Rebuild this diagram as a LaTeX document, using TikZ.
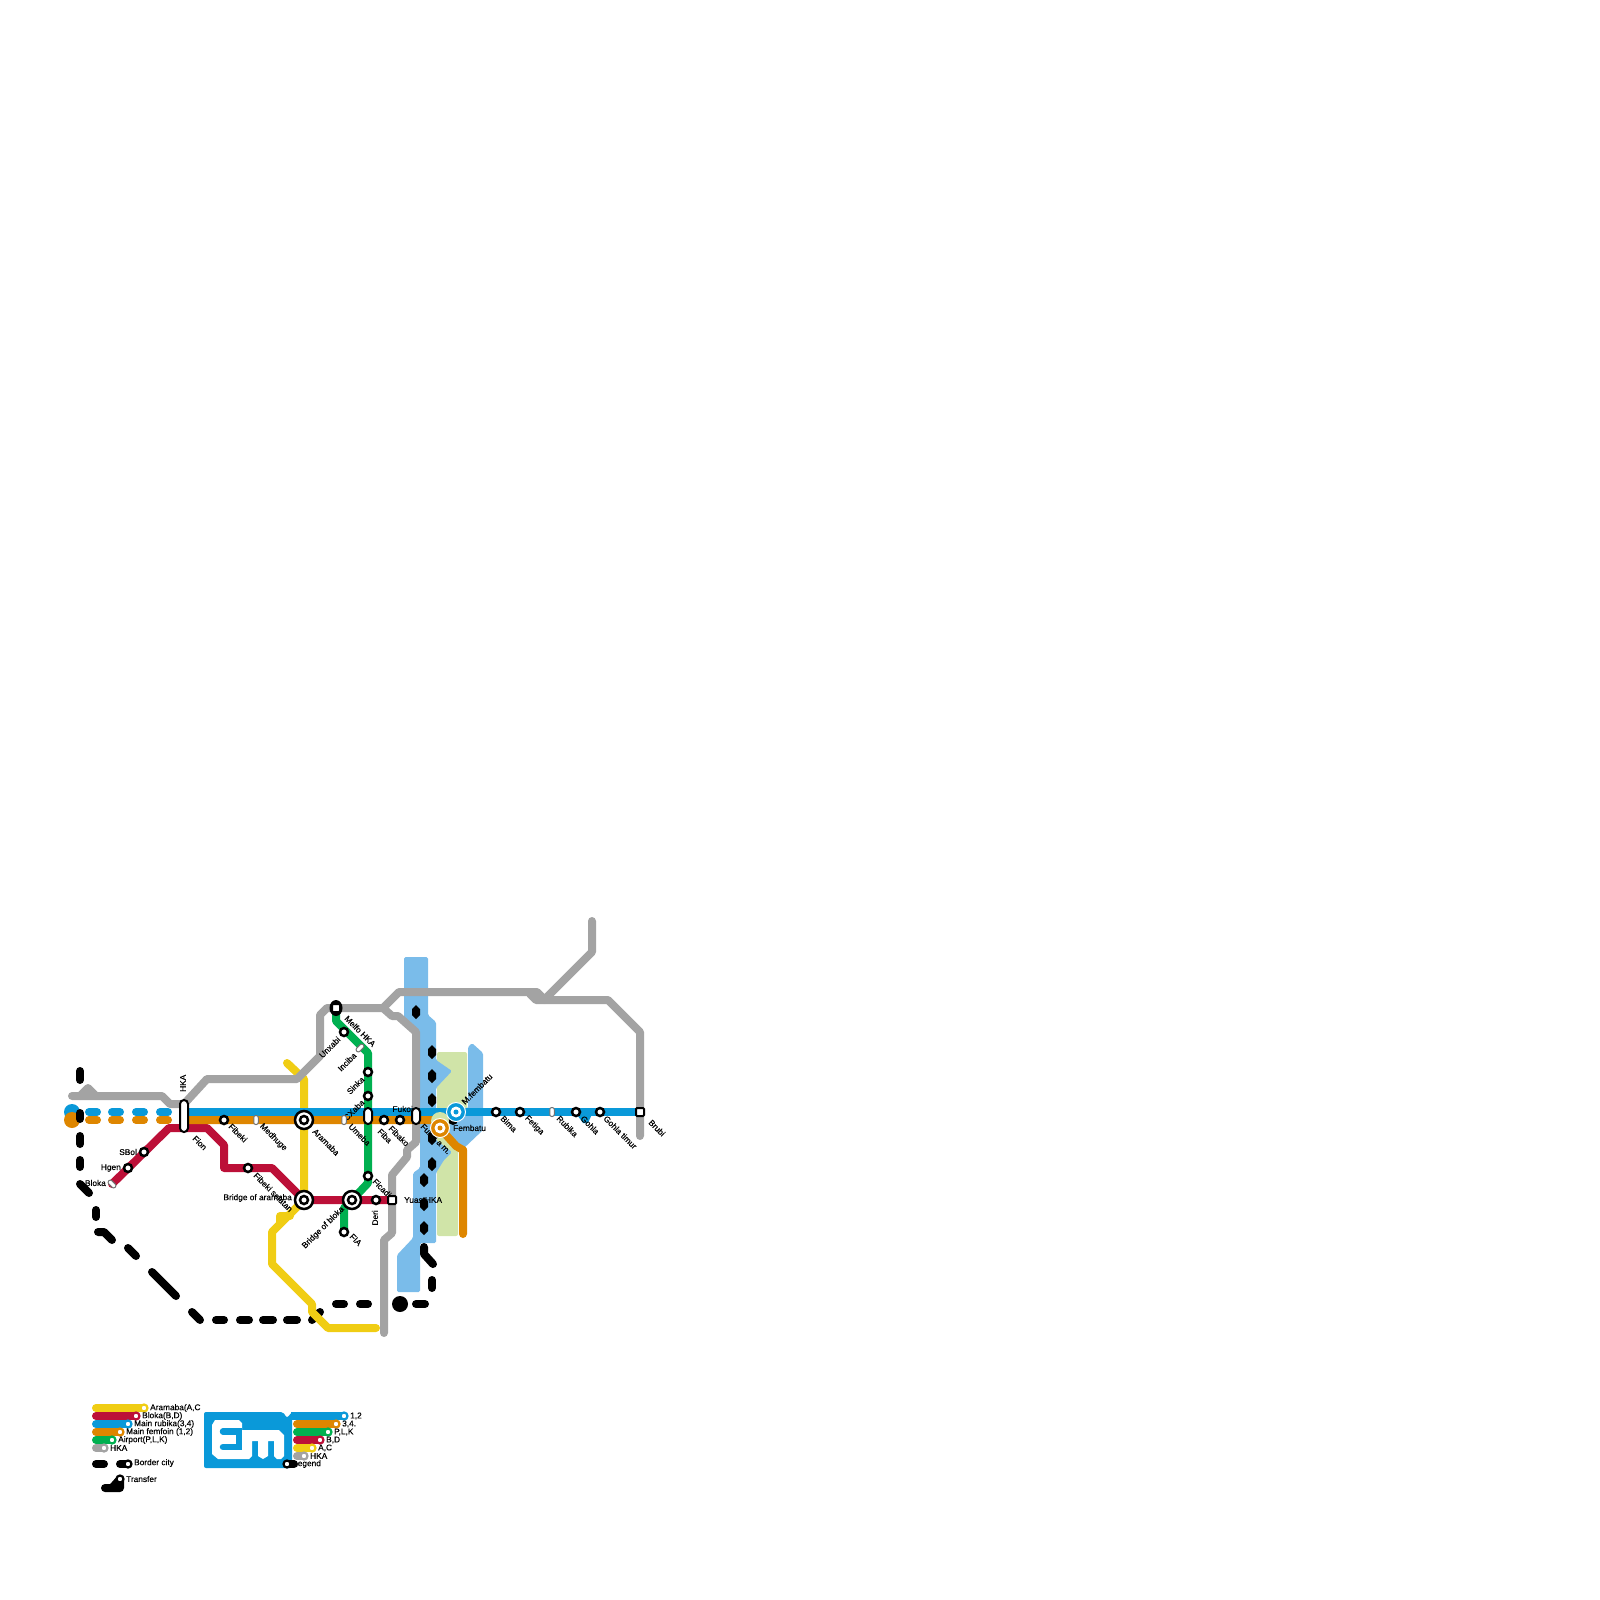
\documentclass[tikz,border=0pt]{standalone}
\usepackage{fontspec}
\setmainfont{Liberation Sans}[FakeBold=0.25]
\definecolor{lineblue}{HTML}{0A99D9}
\definecolor{lineorange}{HTML}{DE8600}
\definecolor{linered}{HTML}{BC1038}
\definecolor{linegreen}{HTML}{00B050}
\definecolor{lineyellow}{HTML}{F0CD14}
\definecolor{linegray}{HTML}{A3A3A3}
\definecolor{water}{HTML}{7ABCEA}
\definecolor{park}{HTML}{D0E4A8}
\tikzset{
    metro/.style={line width=8pt, line cap=round, line join=round},
    lbl/.style={font=\fontsize{8.3}{9}\selectfont, inner sep=0pt},
    lbldown/.style={lbl, anchor=west, rotate=-45},
    lblup/.style={lbl, anchor=east, rotate=45},
    stopring/.style={circle, draw=black, line width=2.5pt, fill=white, minimum size=8pt, inner sep=0pt},
    hubring/.style={circle, draw=black, line width=2.5pt, fill=white, minimum size=18pt, inner sep=0pt},
    minipill/.style={rectangle, rounded corners=2pt, draw=black!55, line width=1pt, fill=white, minimum width=4.5pt, minimum height=9pt, inner sep=0pt},
    bigpill/.style={rectangle, rounded corners=3.9pt, draw=black, line width=2pt, fill=white, minimum width=8pt, inner sep=0pt},
    endsquare/.style={rectangle, rounded corners=1pt, draw=black, line width=2pt, fill=white, minimum size=8pt, inner sep=0pt},
    keyring/.style={circle, line width=2.2pt, fill=white, minimum size=7pt, inner sep=0pt}
}

\begin{document}
\begin{tikzpicture}[x=1pt, y=-1pt]
    \useasboundingbox (0,0) rectangle (1600,1600);

    % Station positions
    \foreach \nm/\x/\y in {hka/184/1116, fibeki/224/1120, medhuge/256/1120, aramaba/304/1120, umeba/344/1120,
        fiba/368/1116, fibako/384/1120, fibakob/400/1120, fukoi/416/1116, fembatu/440/1128, mfembatu/456/1112,
        bima/496/1112, fetiga/520/1112, rubika/552/1112, gohla/576/1112, gohlatimur/600/1112, brubi/640/1112,
        sbol/144/1152, hgen/128/1168, bloka/112/1184, fibekisel/248/1168, bridgea/304/1200, bridgeb/352/1200,
        deri/376/1200, yuas/392/1200, melfo/336/1008, unxabi/344/1032, inciba/360/1048, sinka/368/1072,
        cxaba/368/1096, ficadi/368/1176, fia/344/1232}
        \coordinate (\nm) at (\x,\y);

    % Park and water
    \fill[park, rounded corners=2pt] (437,1052) -- (467,1052) -- (467,1112) -- (458,1112) -- (458,1236) -- (437,1236) -- cycle;
    \fill[water, rounded corners=1.5pt] (404,957) -- (428,957) -- (428,1015) -- (436,1022) -- (436,1060) -- (452,1071)
        -- (436,1088) -- (436,1140) -- (452,1152) -- (444,1160) -- (436,1173) -- (436,1243) -- (420,1243) -- (420,1292)
        -- (397,1292) -- (397,1255) -- (413,1238) -- (413,1173) -- (420,1168) -- (420,1035) -- (404,1020) -- cycle;
    \fill[water, rounded corners=1.5pt] (468,1047) -- (472,1043) -- (483,1053) -- (483,1130) -- (462,1150) -- (453,1148)
        -- (445,1138) -- (452,1120) -- (468,1108) -- cycle;
    \fill[lineblue] (575,1112) -- (583,1123) -- (588,1123) -- (593,1112) -- cycle;

    % Black border city, dashed
    \foreach \x/\y in {416/1012, 432/1052, 432/1076, 432/1100, 432/1138, 432/1164, 424/1180, 424/1204, 424/1228}
        \fill (\x,\y) ++(-4,-3) -- ++(4,-4) -- ++(4,4) -- ++(0,6) -- ++(-4,4) -- ++(-4,-4) -- cycle;
    \foreach \xa/\ya/\xb/\yb in {80/1071/80/1080, 80/1136/80/1144, 80/1160/80/1167,
        80/1184/89/1193, 96/1210/96/1217, 128/1248/136/1256, 152/1272/176/1296, 192/1312/200/1320,
        216/1320/224/1320, 240/1320/249/1320, 263/1320/273/1320, 287/1320/297/1320, 312/1320/320/1312,
        336/1304/344/1304, 360/1304/368/1304, 416/1304/425/1304, 432/1280/432/1288}
        \draw[metro] (\xa,\ya) -- (\xb,\yb);
    \draw[metro] (98,1232) -- (104,1232) -- (112,1240);
    \draw[metro] (424,1247) -- (424,1254) -- (433,1264);
    \fill (400,1304) circle[radius=8pt];
    \fill (453,1120) circle[radius=5pt];

    % Yellow line
    \draw[metro, lineyellow] (287,1063) -- (304,1079) -- (bridgea) -- (272,1232) -- (272,1264) -- (312,1304) -- (312,1312) -- (328,1328) -- (376,1328);
    \draw[metro, lineyellow] (280,1223) -- (280,1216) -- (290,1216);

    % Gray line
    \draw[metro, linegray] (72,1096) -- (162,1096) -- (170,1104) -- (184,1104) -- (207,1079) -- (297,1079) -- (320,1056) -- (320,1015)
        -- (327,1008) -- (383,1008) -- (399,992) -- (537,992) -- (545,1000);
    \draw[metro, linegray] (530,994) -- (536,1000) -- (608,1000) -- (640,1032) -- (640,1136);
    \draw[metro, linegray] (544,1000) -- (592,952) -- (592,921);
    \draw[metro, linegray] (80,1096) -- (88,1088) -- (96,1096);
    \draw[metro, linegray] (383,1008) -- (392,1016) -- (398,1016) -- (416,1032) -- (416,1142) -- (407,1150) -- (407,1157) -- (392,1175)
        -- (392,1233) -- (384,1240) -- (384,1333);

    % Green line
    \draw[metro, linegreen] (melfo) -- (336,1021) -- (368,1053) -- (ficadi) -- (368,1183) -- (bridgeb) -- (344,1208) -- (fia);

    % Red line
    \draw[metro, linered] (bloka) -- (169,1128) -- (207,1128) -- (224,1145) -- (224,1168) -- (272,1168) -- (bridgea) -- (yuas);

    % Blue and orange lines
    \draw[metro, lineblue, line cap=butt] (188,1112) -- (brubi);
    \draw[metro, lineorange, line cap=butt] (188,1120) -- (436,1120) -- (fembatu) -- (447,1136) -- (456,1146) -- (463,1150) -- (463,1234);
    \draw[metro, lineorange] (463,1150) -- (463,1234);
    \foreach \x in {89,112,136,160} {
        \draw[metro, lineblue] (\x,1112) -- ++(8,0);
        \draw[metro, lineorange] (\x,1120) -- ++(8,0);
    }
    \fill[lineblue] (72,1112) circle[radius=8pt];
    \fill[lineorange] (72,1120) circle[radius=8pt];
    \draw[metro] (80,1113) -- (80,1119);
    \fill[park] (440,1121) circle[radius=9pt];

    % Labels
    \foreach \nm/\x/\y/\txt in {bima/502/1117/Bima, fetiga/526/1117/Fetiga, rubika/558/1117/Rubika, gohla/582/1117/Gohla,
        gohlatimur/605/1117/Gohla timur, brubi/650/1121/Brubi, fion/194/1137/Fion, fibeki/230/1125/Fibeki, medhuge/261/1125/Medhuge,
        fibekisel/255/1174/Fibeki selatan, aramaba/314/1130/Aramaba, umeba/350/1125/Umeba, fiba/379/1130/Fiba, fibako/390/1127/Fibako,
        fukoi/422/1125/Fukoi a m., melfo/346/1017/Melfo HKA, ficadi/374/1180/Ficadi, fia/351/1235/FIA}
        \node[lbldown] (t\nm) at (\x,\y) {\txt};
    \foreach \nm/\x/\y/\txt in {bridgeb/343/1208/Bridge of bloka, unxabi/339/1038/Unxabi, inciba/355/1054/Inciba,
        sinka/363/1078/Sinka, cxaba/363/1101/CXaba}
        \node[lblup] (t\nm) at (\x,\y) {\txt};
    \node[lbl, anchor=west, rotate=45] (tmfembatu) at (463,1103) {M.fembatu};
    \foreach \nm/\x/\y/\txt in {sbol/137/1152/SBol, hgen/121/1168/Hgen, bloka/106/1183/Bloka, bridgea/292/1198/Bridge of aramaba, fukoil/413/1109/Fukoi}
        \node[lbl, anchor=east] (t\nm) at (\x,\y) {\txt};
    \node[lbl, anchor=west] (tfembatu) at (453,1128) {Fembatu};
    \node[lbl, anchor=west] (tyuas) at (404,1200) {Yuas HKA};
    \node[lbl, anchor=west, rotate=90] (thka) at (183,1092) {HKA};
    \node[lbl, anchor=east, rotate=90] (tderi) at (375,1210) {Deri};

    % Stations
    \foreach \nm in {fibeki, fibako, fibakob, bima, fetiga, gohla, gohlatimur, sbol, hgen, fibekisel, deri, unxabi, sinka, cxaba, ficadi, fia}
        \node[stopring] (s\nm) at (\nm) {};
    \foreach \nm in {medhuge, umeba, rubika}
        \node[minipill] (s\nm) at (\nm) {};
    \node[minipill, rotate=-45] (sinciba) at (inciba) {};
    \node[minipill, rotate=45] (sbloka) at (bloka) {};
    \foreach \nm in {aramaba, bridgea, bridgeb} {
        \node[hubring] (s\nm) at (\nm) {};
        \node[stopring] at (\nm) {};
    }
    \node[bigpill, minimum height=32pt] (shka) at (hka) {};
    \node[bigpill, minimum height=16pt] (sfiba) at (fiba) {};
    \node[bigpill, minimum height=16pt] (sfukoi) at (fukoi) {};
    \fill (melfo) ellipse[x radius=6.5pt, y radius=8pt];
    \foreach \nm in {melfo, yuas, brubi}
        \node[endsquare] (s\nm) at (\nm) {};
    \foreach \nm/\col in {mfembatu/lineblue, fembatu/lineorange} {
        \node[circle, draw=white, line width=1pt, fill=\col, minimum size=19pt, inner sep=0pt] (s\nm) at (\nm) {};
        \node[circle, fill=white, minimum size=11pt, inner sep=0pt] at (\nm) {};
        \node[circle, fill=\col, minimum size=5pt, inner sep=0pt] at (\nm) {};
    }

    % Legend, left column
    \foreach \nm/\y/\x/\col/\txt in {a/1408/144/lineyellow/{Aramaba(A,C}, b/1416/136/linered/{Bloka(B,D)}, c/1424/128/lineblue/{Main rubika(3,4)},
        d/1432/120/lineorange/{Main femfoin (1,2)}, e/1440/112/linegreen/{Airport(P,L,K)}, f/1448/104/linegray/{HKA}} {
        \draw[metro, \col] (96,\y) -- (\x,\y);
        \node[keyring, draw=\col] (key\nm) at (\x,\y) {};
        \node[lbl, anchor=west] at (\x+6,\y) {\txt};
    }
    \draw[metro] (96,1464) -- (104,1464);
    \draw[metro] (120,1464) -- (128,1464);
    \node[keyring, draw=black] (keyborder) at (128,1464) {};
    \node[lbl, anchor=west] at (134,1463) {Border city};
    \draw[metro] (105,1488) -- (120,1488) -- (120,1479) -- (112,1488);
    \node[keyring, draw=black] (keytransfer) at (120,1479) {};
    \node[lbl, anchor=west] at (126,1479) {Transfer};

    % Logo
    \fill[lineblue, rounded corners=2pt] (204,1412) -- (283,1412) -- (287,1418) -- (292,1412) -- (292,1468) -- (204,1468) -- cycle;
    \fill[lineblue] (291,1412) rectangle (298,1420);
    \fill[white] (215,1420) -- (239,1420) -- (242,1423) -- (242,1430) -- (279,1430) -- (284,1435) -- (284,1456) -- (281,1459) -- (277,1459) -- (274,1456)
        -- (274,1441) -- (268,1441) -- (268,1456) -- (263,1459) -- (258,1456) -- (258,1441) -- (252,1441) -- (252,1456) -- (249,1459)
        -- (218,1459) -- (212,1454) -- (212,1425) -- cycle;
    \draw[lineblue, line width=6.5pt, line cap=round] (223,1431.5) -- (238,1431.5);
    \draw[lineblue, line width=6.5pt, line cap=round] (223,1447) -- (238,1447);
    \fill[lineblue] (236,1428) rectangle (242,1450);

    % Legend, right column
    \foreach \nm/\y/\x/\col/\txt in {g/1416/344/lineblue/{1,2}, h/1424/336/lineorange/{3,4.}, i/1432/328/linegreen/{P,L,K},
        j/1440/320/linered/{B,D}, k/1448/312/lineyellow/{A,C}, l/1456/304/linegray/{HKA}} {
        \draw[metro, \col] (297,\y) -- (\x,\y);
        \node[keyring, draw=\col] (key\nm) at (\x,\y) {};
        \node[lbl, anchor=west] at (\x+6,\y) {\txt};
    }
    \node[lbl, anchor=west] at (293,1464) {Legend};
    \draw[metro] (287,1464) -- (294,1464);
    \node[keyring, draw=black] (keylegend) at (287,1464) {};
\end{tikzpicture}
\end{document}
